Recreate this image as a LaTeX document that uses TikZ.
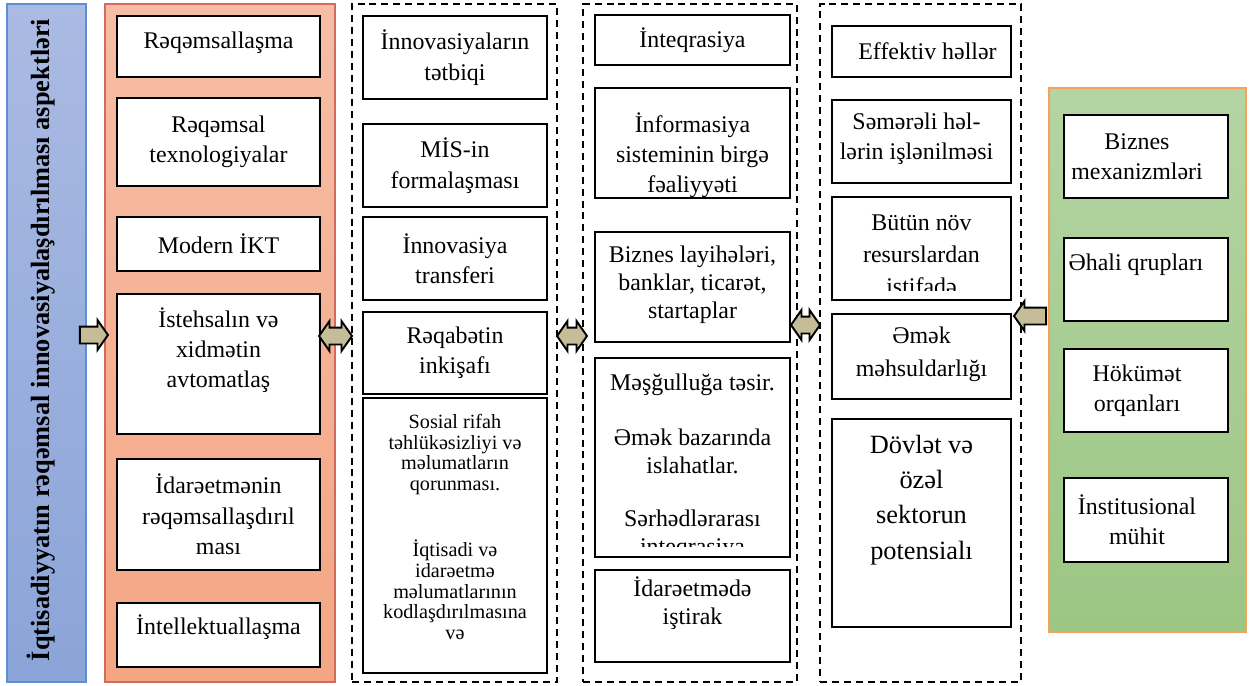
\documentclass[tikz,border=0pt]{standalone}
\usepackage{fontspec}
\setmainfont{Liberation Serif}
\usepackage{xcolor}
\usepackage{tikz}
\usetikzlibrary{arrows.meta,positioning,shapes.arrows}
\definecolor{bluetop}{HTML}{AABAE3}
\definecolor{bluebot}{HTML}{8BA4D8}
\definecolor{bluebd}{HTML}{5B8ED3}
\definecolor{salmontop}{HTML}{F6BDA6}
\definecolor{salmonbot}{HTML}{F4A683}
\definecolor{salmonbd}{HTML}{D26B5D}
\definecolor{greentop}{HTML}{B4D5A3}
\definecolor{greenbot}{HTML}{9CC684}
\definecolor{greenbd}{HTML}{F5A25B}
\definecolor{khaki}{HTML}{C4BD97}
\tikzset{
  panel/.style={line width=1pt,inner sep=0pt},
  card/.style={draw=black,fill=white,line width=1.1pt,inner sep=0pt},
  dashcol/.style={draw=black,dash pattern=on 4pt off 2.8pt,line width=1pt,
                  inner sep=0pt},
  lbl/.style={font=\fontsize{13.6}{17.3}\selectfont,align=center,inner sep=0pt},
  lbltight/.style={font=\fontsize{13.6}{16}\selectfont,align=center,inner sep=0pt},
  lblsmall/.style={font=\fontsize{11.5}{11.7}\selectfont,align=center,inner sep=0pt},
  lblbig/.style={font=\fontsize{15}{20}\selectfont,align=center,inner sep=0pt},
  fatarrow/.style={single arrow,draw=black,fill=khaki,line width=1.1pt,
                   inner sep=0pt,text height=0.15cm,text depth=0.15cm,
                   single arrow head extend=0.13cm,single arrow tip angle=110},
  fatdouble/.style={double arrow,draw=black,fill=khaki,line width=1.1pt,
                    inner sep=0pt,text height=0.15cm,text depth=0.15cm,
                    double arrow head extend=0.13cm,double arrow tip angle=110},
}
\begin{document}
\begin{tikzpicture}
  \useasboundingbox (0,0) rectangle (25.02,-13.70);

  % ---- Title bar ----
  \node[panel,draw=bluebd,top color=bluetop,bottom color=bluebot,
        minimum width=1.58cm,minimum height=13.56cm]
    (title)at(0.93,-6.86){};
  \node[lbl,font=\fontsize{15}{18}\selectfont\bfseries,rotate=90]
    at([xshift=-0.10cm,yshift=0.06cm]title.center)
    {İqtisadiyyatın rəqəmsal innovasiyalaşdırılması aspektləri};

  % ---- Panels ----
  \node[panel,draw=salmonbd,top color=salmontop,bottom color=salmonbot,
        minimum width=4.60cm,minimum height=13.56cm]
    (digit)at(4.40,-6.86){};
  \node[dashcol,minimum width=4.10cm,minimum height=13.56cm]
    (innov)at(9.09,-6.86){};
  \node[dashcol,minimum width=4.28cm,minimum height=13.56cm]
    (integ)at(13.80,-6.86){};
  \node[dashcol,minimum width=4.02cm,minimum height=13.56cm]
    (effect)at(18.41,-6.86){};
  \node[panel,draw=greenbd,top color=greentop,bottom color=greenbot,
        minimum width=3.94cm,minimum height=10.88cm]
    (actors)at(22.95,-7.20){};

  % ---- Digitalisation column ----
  \node[card,minimum width=4.06cm,minimum height=1.22cm](dig1)at(4.37,-0.93){};
  \node[lbl]at([yshift=0.08cm]dig1.center){Rəqəmsallaşma};
  \node[card,minimum width=4.06cm,minimum height=1.76cm](dig2)at(4.37,-2.84){};
  \node[lbl]at(dig2.center){Rəqəmsal\\texnologiyalar};
  \node[card,minimum width=4.06cm,minimum height=1.08cm](dig3)at(4.37,-4.88){};
  \node[lbl]at(dig3.center){Modern İKT};
  \node[card,minimum width=4.06cm,minimum height=2.80cm](dig4)at(4.37,-7.28){};
  \node[lbl,anchor=north]at([yshift=-0.28cm]dig4.north)
    {İstehsalın və\\xidmətin\\avtomatlaş};
  \node[card,minimum width=4.06cm,minimum height=2.22cm](dig5)at(4.37,-10.29){};
  \node[lbl]at(dig5.center){İdarəetmənin\\rəqəmsallaşdırıl\\ması};
  \node[card,minimum width=4.06cm,minimum height=1.28cm](dig6)at(4.37,-12.70){};
  \node[lbl]at([yshift=0.16cm]dig6.center){İntellektuallaşma};

  % ---- Innovation column ----
  \node[card,minimum width=3.68cm,minimum height=1.66cm](inn1)at(9.10,-1.15){};
  \node[lbl]at(inn1.center){İnnovasiyaların\\tətbiqi};
  \node[card,minimum width=3.68cm,minimum height=1.66cm](inn2)at(9.10,-3.31){};
  \node[lbl]at(inn2.center){MİS-in\\formalaşması};
  \node[card,minimum width=3.68cm,minimum height=1.66cm](inn3)at(9.10,-5.17){};
  \node[lbl]at(inn3.center){İnnovasiya\\transferi};
  \node[card,minimum width=3.68cm,minimum height=1.64cm](inn4)at(9.10,-7.06){};
  \node[lbl]at(inn4.center){Rəqabətin\\inkişafı};
  \node[card,minimum width=3.68cm,minimum height=5.50cm](inn5)at(9.10,-10.71){};
  \node[lblsmall,anchor=north]at([yshift=-0.34cm]inn5.north)
    {Sosial rifah\\təhlükəsizliyi və\\məlumatların\\qorunması.\\[25pt]
     İqtisadi və\\idarəetmə\\məlumatlarının\\kodlaşdırılmasına\\və};

  % ---- Integration column ----
  \node[card,minimum width=3.90cm,minimum height=1.00cm](int1)at(13.85,-0.80){};
  \node[lbl]at(int1.center){İnteqrasiya};
  \node[card,minimum width=3.90cm,minimum height=2.20cm](int2)at(13.85,-2.86){};
  \node[lbl,anchor=north]at([yshift=-0.50cm]int2.north)
    {İnformasiya\\sisteminin birgə\\fəaliyyəti};
  \node[card,minimum width=3.90cm,minimum height=2.20cm](int3)at(13.85,-5.74){};
  \node[lbltight]at([yshift=0.04cm]int3.center)
    {Biznes layihələri,\\banklar, ticarət,\\startaplar};
  \node[card,minimum width=3.90cm,minimum height=3.98cm](int4)at(13.85,-9.15){};
  \begin{scope}
    \clip(int4.north west)rectangle([yshift=0.22cm]int4.south east);
    \node[lbltight,anchor=north]at([yshift=-0.34cm]int4.north)
      {Məşğulluğa təsir.\\[15pt]Əmək bazarında\\islahatlar.\\[14pt]
       Sərhədlərarası\\inteqrasiya};
  \end{scope}
  \node[card,minimum width=3.90cm,minimum height=1.84cm](int5)at(13.85,-12.32){};
  \node[lbltight]at([yshift=0.26cm]int5.center){İdarəetmədə\\iştirak};

  % ---- Effect column ----
  \node[card,minimum width=3.58cm,minimum height=1.02cm](eff1)at(18.43,-1.03){};
  \node[lbl]at([xshift=0.12cm]eff1.center){Effektiv həllər};
  \node[card,minimum width=3.58cm,minimum height=1.66cm](eff2)at(18.43,-2.83){};
  \node[lbl]at([xshift=-0.10cm,yshift=0.06cm]eff2.center)
    {Səmərəli həl-\\lərin işlənilməsi};
  \node[card,minimum width=3.58cm,minimum height=2.06cm](eff3)at(18.43,-4.97){};
  \begin{scope}
    \clip(eff3.north west)rectangle([yshift=0.20cm]eff3.south east);
    \node[lbl,font=\fontsize{13.6}{18.2}\selectfont,anchor=north]
      at([yshift=-0.36cm]eff3.north){Bütün növ\\resurslardan\\istifadə};
  \end{scope}
  \node[card,minimum width=3.58cm,minimum height=1.70cm](eff4)at(18.43,-7.13){};
  \node[lbl,font=\fontsize{13.6}{19}\selectfont]
    at([yshift=0.05cm]eff4.center){Əmək\\məhsuldarlığı};
  \node[card,minimum width=3.58cm,minimum height=4.16cm](eff5)at(18.43,-10.46){};
  \node[lblbig,anchor=north]at([yshift=-0.34cm]eff5.north)
    {Dövlət və\\özəl\\sektorun\\potensialı};

  % ---- Actors column ----
  \node[card,minimum width=3.28cm,minimum height=1.66cm](act1)at(22.92,-3.13){};
  \node[lbl]at([xshift=-0.18cm]act1.center){Biznes\\mexanizmləri};
  \node[card,minimum width=3.28cm,minimum height=1.66cm](act2)at(22.92,-5.59){};
  \node[lbl,anchor=north]at([xshift=-0.20cm,yshift=-0.34cm]act2.north)
    {Əhali qrupları};
  \node[card,minimum width=3.28cm,minimum height=1.66cm](act3)at(22.92,-7.81){};
  \node[lbl]at([xshift=-0.18cm]act3.center){Hökümət\\orqanları};
  \node[card,minimum width=3.28cm,minimum height=1.68cm](act4)at(22.92,-10.40){};
  \node[lbl]at([xshift=-0.18cm]act4.center){İnstitusional\\mühit};

  % ---- Block arrows ----
  \node[fatarrow,minimum height=0.56cm](a1)at(1.82,-6.70){};
  \node[fatdouble,minimum height=0.66cm](a2)at(6.71,-6.72){};
  \node[fatdouble,minimum height=0.60cm](a3)at(11.44,-6.72){};
  \node[fatdouble,minimum height=0.58cm](a4)at(16.11,-6.50){};
  \node[fatarrow,shape border rotate=180,minimum height=0.64cm]
    (a5)at(20.66,-6.32){};
\end{tikzpicture}
\end{document}
